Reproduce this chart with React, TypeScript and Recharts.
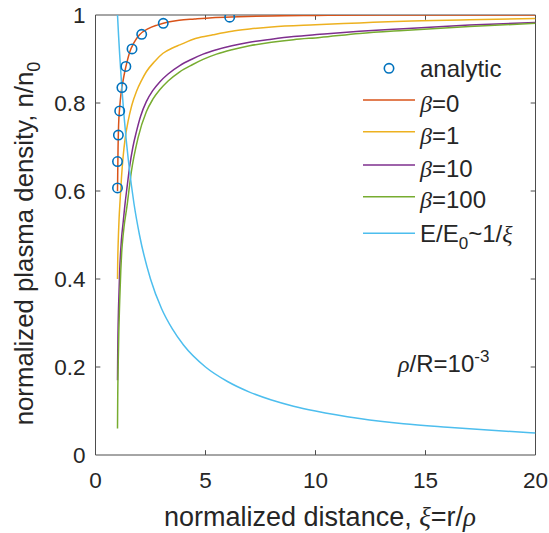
import { ComposedChart, Line, Scatter, XAxis, YAxis, ReferenceLine } from "recharts"

// axis ticks
const xTicks = [0, 5, 10, 15, 20]
const yTicks = [0, 0.2, 0.4, 0.6, 0.8, 1]

// analytic solution (circles)
const analyticX = [1.0, 1.0, 1.04, 1.1, 1.2, 1.38, 1.66, 2.1, 3.08, 6.1]
const analyticY = [0.607, 0.667, 0.727, 0.782, 0.835, 0.883, 0.923, 0.956, 0.981, 0.995]

// beta = 0
const beta0X = [1.0, 1.01, 1.02, 1.05, 1.1, 1.17, 1.25, 1.33, 1.45, 1.55, 1.75, 2.0, 2.4, 2.8, 3.3, 3.8, 4.5, 5.3, 6.5, 8, 10, 13, 16, 20]
const beta0Y = [0.6, 0.64, 0.68, 0.75, 0.79, 0.826, 0.85, 0.871, 0.897, 0.915, 0.937, 0.955, 0.969, 0.977, 0.984, 0.988, 0.991, 0.994, 0.996, 0.998, 0.999, 1.0, 1.0, 1.0]

// beta = 1
const beta1X = [1.0, 1.01, 1.03, 1.07, 1.12, 1.18, 1.25, 1.35, 1.48, 1.65, 1.86, 2.1, 2.31, 2.7, 3.07, 3.5, 3.83, 4.58, 5.34, 6.2, 7, 8, 10, 12, 14, 17, 20]
const beta1Y = [0.4, 0.44, 0.48, 0.535, 0.58, 0.63, 0.675, 0.72, 0.758, 0.795, 0.826, 0.852, 0.871, 0.895, 0.913, 0.925, 0.932, 0.947, 0.955, 0.963, 0.968, 0.973, 0.978, 0.982, 0.986, 0.989, 0.992]

// beta = 10
const beta10X = [1.0, 1.01, 1.02, 1.05, 1.1, 1.18, 1.26, 1.33, 1.45, 1.55, 1.7, 1.86, 2.05, 2.31, 2.6, 2.92, 3.3, 3.83, 4.4, 4.89, 5.5, 6.2, 7, 8, 9, 10.2, 12, 14, 17, 20]
const beta10Y = [0.17, 0.23, 0.27, 0.34, 0.42, 0.49, 0.53, 0.565, 0.615, 0.655, 0.7, 0.735, 0.77, 0.803, 0.828, 0.848, 0.866, 0.885, 0.9, 0.911, 0.921, 0.93, 0.938, 0.945, 0.951, 0.956, 0.963, 0.969, 0.977, 0.983]

// beta = 100
const beta100X = [1.0, 1.01, 1.03, 1.06, 1.1, 1.15, 1.19, 1.22, 1.3, 1.43, 1.63, 1.93, 2.31, 2.6, 2.92, 3.3, 3.83, 4.4, 4.89, 5.5, 6.2, 7, 8, 9, 10.2, 12, 14, 17, 20]
const beta100Y = [0.06, 0.13, 0.2, 0.28, 0.35, 0.42, 0.46, 0.48, 0.52, 0.565, 0.644, 0.72, 0.78, 0.808, 0.83, 0.85, 0.871, 0.887, 0.899, 0.911, 0.921, 0.93, 0.938, 0.944, 0.949, 0.958, 0.965, 0.974, 0.981]

// E/E0 ~ 1/xi
const fieldX = [1, 1.05, 1.1, 1.2, 1.3, 1.4, 1.5, 1.75, 2, 2.5, 3, 3.5, 4, 5, 6, 7, 8, 9, 10, 12, 14, 16, 18, 20]
const fieldY = [1, 0.952, 0.909, 0.833, 0.769, 0.714, 0.667, 0.571, 0.5, 0.4, 0.333, 0.286, 0.25, 0.2, 0.167, 0.143, 0.125, 0.111, 0.1, 0.083, 0.071, 0.063, 0.056, 0.05]

const toPoints = (xs: number[], ys: number[]) => xs.map((x, i) => ({ x, y: ys[i] }))

const BLUE = "#0072BD"
const RED = "#D95319"
const YELLOW = "#EDB120"
const PURPLE = "#7E2F8E"
const GREEN = "#77AC30"
const CYAN = "#4DBEEE"
const AXIS = "#4d4d4d"
const TEXT = "#262626"
const SANS = "'Liberation Sans', Arial, sans-serif"
const SERIF = "'Liberation Serif', 'Times New Roman', serif"

const series = [
  { name: "beta0", color: RED, data: toPoints(beta0X, beta0Y) },
  { name: "beta1", color: YELLOW, data: toPoints(beta1X, beta1Y) },
  { name: "beta10", color: PURPLE, data: toPoints(beta10X, beta10Y) },
  { name: "beta100", color: GREEN, data: toPoints(beta100X, beta100Y) },
  { name: "field", color: CYAN, data: toPoints(fieldX, fieldY) },
]

const Circle = (props: any) => (
  <circle cx={props.cx} cy={props.cy} r={4.7} fill="none" stroke={BLUE} strokeWidth={1.6} />
)

const tickStyle = { fontSize: 22.5, fill: TEXT, fontFamily: SANS }

// MATLAB-like inward ticks on all four sides
const xTickLen = 0.22
const yTickLen = 0.011

function Overlay() {
  const rows = [
    { y: 100, base: 111.7, color: RED, label: "0" },
    { y: 131.7, base: 144, color: YELLOW, label: "1" },
    { y: 165, base: 177, color: PURPLE, label: "10" },
    { y: 196.7, base: 208.3, color: GREEN, label: "100" },
  ]
  return (
    <svg width={549} height={533} style={{ position: "absolute", left: 0, top: 0, pointerEvents: "none" }}>
      <g fontFamily={SANS} fill={TEXT}>
        {/* legend */}
        <circle cx={389} cy={68.3} r={4.7} fill="none" stroke={BLUE} strokeWidth={1.6} />
        <text x={420} y={76.7} fontSize={24}>analytic</text>
        {rows.map((r) => (
          <g key={r.label}>
            <line x1={363} x2={415} y1={r.y} y2={r.y} stroke={r.color} strokeWidth={1.5} />
            <text x={420} y={r.base} fontSize={24}>
              <tspan fontFamily={SERIF} fontStyle="italic">β</tspan>={r.label}
            </text>
          </g>
        ))}
        <line x1={363} x2={415} y1={233.3} y2={233.3} stroke={CYAN} strokeWidth={1.5} />
        <text x={420} y={241.7} fontSize={24}>
          E/E<tspan fontSize={17} dy={7}>0</tspan>
          <tspan dy={-7}>~1/</tspan>
          <tspan fontFamily={SERIF} fontStyle="italic">ξ</tspan>
        </text>

        {/* annotation */}
        <text x={398} y={371.7} fontSize={24}>
          <tspan fontFamily={SERIF} fontStyle="italic">ρ</tspan>/R=10
          <tspan fontSize={17} dy={-10}>-3</tspan>
        </text>

        {/* axis labels */}
        <text x={320} y={526} fontSize={27} textAnchor="middle">
          normalized distance, <tspan fontFamily={SERIF} fontStyle="italic">ξ</tspan>=r/
          <tspan fontFamily={SERIF} fontStyle="italic">ρ</tspan>
        </text>
        <text x={33} y={243.5} fontSize={25.8} textAnchor="middle" transform="rotate(-90, 33, 243.5)">
          normalized plasma density, n/n<tspan fontSize={18} dy={7}>0</tspan>
        </text>
      </g>
    </svg>
  )
}

export default function App() {
  return (
    <div style={{ position: "relative", width: 549, height: 533, background: "#fff" }}>
      <style>{"body{margin:0}"}</style>
      <ComposedChart width={549} height={533} margin={{ top: 15, right: 13.5, bottom: 0, left: 0 }}>
        <XAxis
          type="number"
          dataKey="x"
          domain={[0, 20]}
          ticks={xTicks}
          interval={0}
          allowDataOverflow
          tickLine={false}
          tickSize={0}
          tickMargin={17}
          height={78}
          stroke={AXIS}
          tick={tickStyle}
        />
        <YAxis
          type="number"
          dataKey="y"
          domain={[0, 1]}
          ticks={yTicks}
          interval={0}
          allowDataOverflow
          tickLine={false}
          tickSize={0}
          tickMargin={10}
          width={95.5}
          stroke={AXIS}
          tick={tickStyle}
        />
        <ReferenceLine y={1} stroke={AXIS} ifOverflow="visible" />
        <ReferenceLine x={20} stroke={AXIS} ifOverflow="visible" />
        {xTicks.slice(1, -1).map((t) => (
          <ReferenceLine key={"xb" + t} segment={[{ x: t, y: 0 }, { x: t, y: yTickLen }]} stroke={AXIS} />
        ))}
        {xTicks.slice(1, -1).map((t) => (
          <ReferenceLine key={"xt" + t} segment={[{ x: t, y: 1 }, { x: t, y: 1 - yTickLen }]} stroke={AXIS} />
        ))}
        {yTicks.slice(1, -1).map((t) => (
          <ReferenceLine key={"yl" + t} segment={[{ x: 0, y: t }, { x: xTickLen, y: t }]} stroke={AXIS} />
        ))}
        {yTicks.slice(1, -1).map((t) => (
          <ReferenceLine key={"yr" + t} segment={[{ x: 20, y: t }, { x: 20 - xTickLen, y: t }]} stroke={AXIS} />
        ))}
        <Scatter
          name="analytic"
          data={toPoints(analyticX, analyticY)}
          dataKey="y"
          shape={Circle}
          isAnimationActive={false}
        />
        {series.map((s) => (
          <Line
            key={s.name}
            name={s.name}
            data={s.data}
            dataKey="y"
            type="monotone"
            stroke={s.color}
            strokeWidth={1.5}
            dot={false}
            activeDot={false}
            isAnimationActive={false}
          />
        ))}
      </ComposedChart>
      <Overlay />
    </div>
  )
}
